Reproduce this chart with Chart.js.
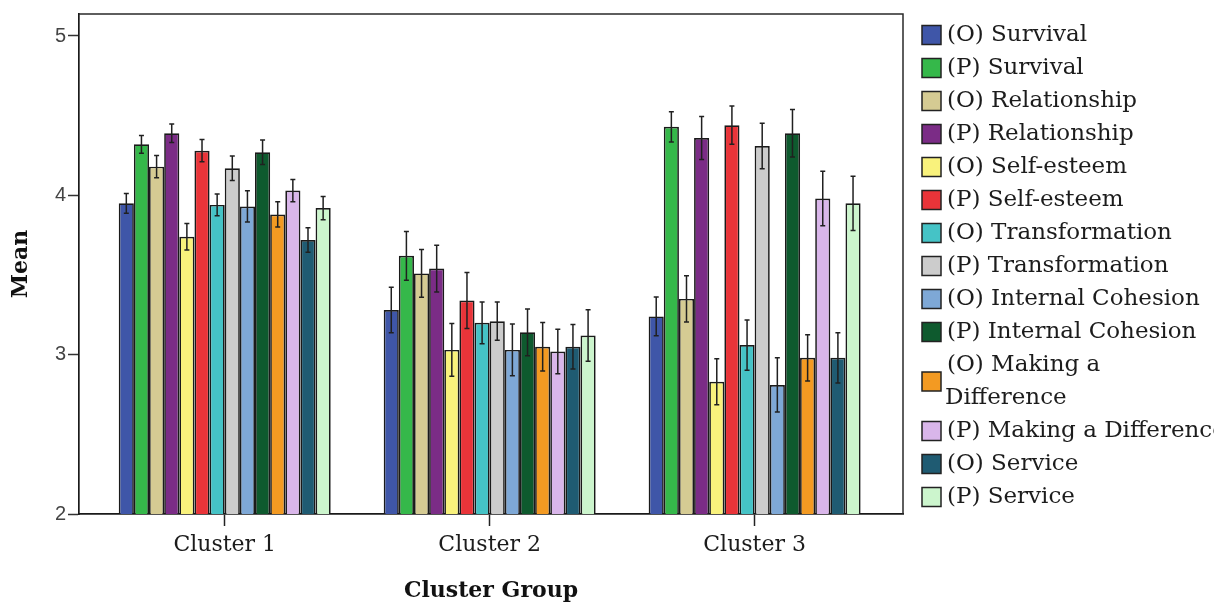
<!DOCTYPE html>
<html>
<head>
<meta charset="utf-8">
<script src="https://cdn.jsdelivr.net/npm/chart.js@4.4.1/dist/chart.umd.min.js"></script>
<style>
  html, body { margin: 0; padding: 0; background: #ffffff; }
  #wrap { position: relative; width: 1214px; height: 606px; overflow: hidden; }
  canvas { display: block; }
</style>
</head>
<body>
<div id="wrap"><canvas id="chart" width="1214" height="606"></canvas></div>
<script>
// Cluster groups on the horizontal axis
const categories = ['Cluster 1', 'Cluster 2', 'Cluster 3'];
const yTicks = [2, 3, 4, 5];

// Series names (the fourth-from-last wraps onto two lines in the legend)
const seriesNames = [
  '(O) Survival', '(P) Survival',
  '(O) Relationship', '(P) Relationship',
  '(O) Self-esteem', '(P) Self-esteem',
  '(O) Transformation', '(P) Transformation',
  '(O) Internal Cohesion', '(P) Internal Cohesion',
  '(O) Making a\nDifference', '(P) Making a Difference',
  '(O) Service', '(P) Service'
];

const seriesColors = [
  '#3f56a8', '#35b84a',
  '#d5cb93', '#7b2c86',
  '#f9f27c', '#e93439',
  '#45c3c6', '#cccccc',
  '#7ea8d6', '#0e5a2e',
  '#f39a22', '#d9b6ea',
  '#1f5b72', '#ccf5cd'
];

// Mean per series, one value per cluster
const oSurvival        = [3.95, 3.28, 3.24];
const pSurvival        = [4.32, 3.62, 4.43];
const oRelationship    = [4.18, 3.51, 3.35];
const pRelationship    = [4.39, 3.54, 4.36];
const oSelfEsteem      = [3.74, 3.03, 2.83];
const pSelfEsteem      = [4.28, 3.34, 4.44];
const oTransformation  = [3.94, 3.20, 3.06];
const pTransformation  = [4.17, 3.21, 4.31];
const oInternal        = [3.93, 3.03, 2.81];
const pInternal        = [4.27, 3.14, 4.39];
const oMaking          = [3.88, 3.05, 2.98];
const pMaking          = [4.03, 3.02, 3.98];
const oService         = [3.72, 3.05, 2.98];
const pService         = [3.92, 3.12, 3.95];

// Error bar half-widths (same order)
const oSurvivalErr       = [0.062, 0.143, 0.122];
const pSurvivalErr       = [0.056, 0.153, 0.095];
const oRelationshipErr   = [0.070, 0.150, 0.145];
const pRelationshipErr   = [0.058, 0.147, 0.135];
const oSelfEsteemErr     = [0.083, 0.166, 0.145];
const pSelfEsteemErr     = [0.070, 0.176, 0.120];
const oTransformationErr = [0.068, 0.131, 0.158];
const pTransformationErr = [0.077, 0.120, 0.143];
const oInternalErr       = [0.098, 0.162, 0.170];
const pInternalErr       = [0.077, 0.147, 0.149];
const oMakingErr         = [0.079, 0.152, 0.145];
const pMakingErr         = [0.070, 0.140, 0.171];
const oServiceErr        = [0.077, 0.140, 0.158];
const pServiceErr        = [0.073, 0.162, 0.170];

const seriesValues = [oSurvival, pSurvival, oRelationship, pRelationship, oSelfEsteem, pSelfEsteem,
  oTransformation, pTransformation, oInternal, pInternal, oMaking, pMaking, oService, pService];
const seriesErrors = [oSurvivalErr, pSurvivalErr, oRelationshipErr, pRelationshipErr, oSelfEsteemErr,
  pSelfEsteemErr, oTransformationErr, pTransformationErr, oInternalErr, pInternalErr, oMakingErr,
  pMakingErr, oServiceErr, pServiceErr];

const SERIF = '"DejaVu Serif", serif';
const SANS = '"Liberation Sans", Arial, sans-serif';

const datasets = seriesNames.map((name, i) => ({
  label: name,
  data: seriesValues[i].map((v, j) => ({ x: j + 1, y: v })),
  errors: seriesErrors[i],
  backgroundColor: seriesColors[i],
  borderColor: '#1a1a1a',
  borderWidth: 1.7,
  borderSkipped: false,
  barPercentage: 1.0,
  categoryPercentage: 0.8
}));

// Vertical error bars with small caps on every bar
const errorBars = {
  id: 'errorBars',
  afterDatasetsDraw(chart) {
    const ctx = chart.ctx;
    const y = chart.scales.y;
    ctx.save();
    ctx.strokeStyle = '#202020';
    ctx.lineWidth = 1.5;
    chart.data.datasets.forEach((ds, i) => {
      const meta = chart.getDatasetMeta(i);
      meta.data.forEach((bar, j) => {
        const v = ds.data[j].y, e = ds.errors[j];
        const top = y.getPixelForValue(v + e);
        const bot = y.getPixelForValue(v - e);
        const x = bar.x;
        ctx.beginPath();
        ctx.moveTo(x, top); ctx.lineTo(x, bot);
        ctx.moveTo(x - 2.5, top); ctx.lineTo(x + 2.5, top);
        ctx.moveTo(x - 2.5, bot); ctx.lineTo(x + 2.5, bot);
        ctx.stroke();
      });
    });
    ctx.restore();
  }
};

// Top and right edges of the plot frame
const frame = {
  id: 'frame',
  afterDraw(chart) {
    const { ctx, chartArea: a } = chart;
    ctx.save();
    ctx.strokeStyle = '#2a2a2a';
    ctx.lineWidth = 1.5;
    ctx.beginPath();
    ctx.moveTo(a.left, a.top);
    ctx.lineTo(a.right, a.top);
    ctx.lineTo(a.right, a.bottom);
    ctx.stroke();
    ctx.restore();
  }
};

// Legend column on the right
const sideLegend = {
  id: 'sideLegend',
  afterDraw(chart) {
    const ctx = chart.ctx;
    const x0 = 922, box = 19, textX = 947, y0 = 35, step = 33;
    ctx.save();
    ctx.font = '23px ' + SERIF;
    ctx.textBaseline = 'middle';
    let line = 0;
    chart.data.datasets.forEach((ds) => {
      const parts = ds.label.split('\n');
      const first = y0 + step * line;
      const last = y0 + step * (line + parts.length - 1);
      const cy = (first + last) / 2;
      ctx.fillStyle = ds.backgroundColor;
      ctx.fillRect(x0, cy - box / 2, box, box);
      ctx.strokeStyle = '#222';
      ctx.lineWidth = 1.5;
      ctx.strokeRect(x0, cy - box / 2, box, box);
      ctx.fillStyle = '#1c1c1c';
      parts.forEach((p, k) => {
        ctx.fillText(p, k === 0 ? textX : textX - 2, y0 + step * (line + k));
      });
      line += parts.length;
    });
    ctx.restore();
  }
};

new Chart(document.getElementById('chart'), {
  type: 'bar',
  data: { datasets },
  options: {
    responsive: false,
    animation: false,
    layout: { padding: { left: 0, top: 11, right: 311, bottom: 0 } },
    plugins: {
      legend: { display: false },
      tooltip: { enabled: false }
    },
    scales: {
      x: {
        type: 'linear',
        min: 0.45,
        max: 3.56,
        offset: false,
        afterBuildTicks(scale) { scale.ticks = categories.map((c, i) => ({ value: i + 1 })); },
        afterFit(scale) { scale.height = 92; },
        ticks: {
          callback: (v) => categories[v - 1],
          font: { family: SERIF, size: 22 },
          color: '#1c1c1c',
          padding: 6,
          maxRotation: 0,
          autoSkip: false
        },
        grid: { offset: false, drawOnChartArea: false, drawTicks: true, tickLength: 12, tickColor: '#222', tickWidth: 1.5 },
        border: { display: true, color: '#1a1a1a', width: 1.7 },
        title: {
          display: true,
          text: 'Cluster Group',
          font: { family: SERIF, size: 22, weight: 'bold' },
          color: '#111',
          padding: { top: 0, bottom: 2 }
        }
      },
      y: {
        min: 2,
        max: 5.138,
        afterBuildTicks(scale) { scale.ticks = yTicks.map(v => ({ value: v })); },
        afterFit(scale) { scale.width = 79; },
        ticks: {
          font: { family: SANS, size: 20 },
          color: '#444',
          padding: 2
        },
        grid: { drawOnChartArea: false, drawTicks: true, tickLength: 11, tickColor: '#333', tickWidth: 1.5 },
        border: { display: true, color: '#1a1a1a', width: 1.7 },
        title: {
          display: true,
          text: 'Mean',
          font: { family: SERIF, size: 22, weight: 'bold' },
          color: '#111',
          padding: { top: 8, bottom: 0 }
        }
      }
    }
  },
  plugins: [errorBars, frame, sideLegend]
});
</script>
</body>
</html>
